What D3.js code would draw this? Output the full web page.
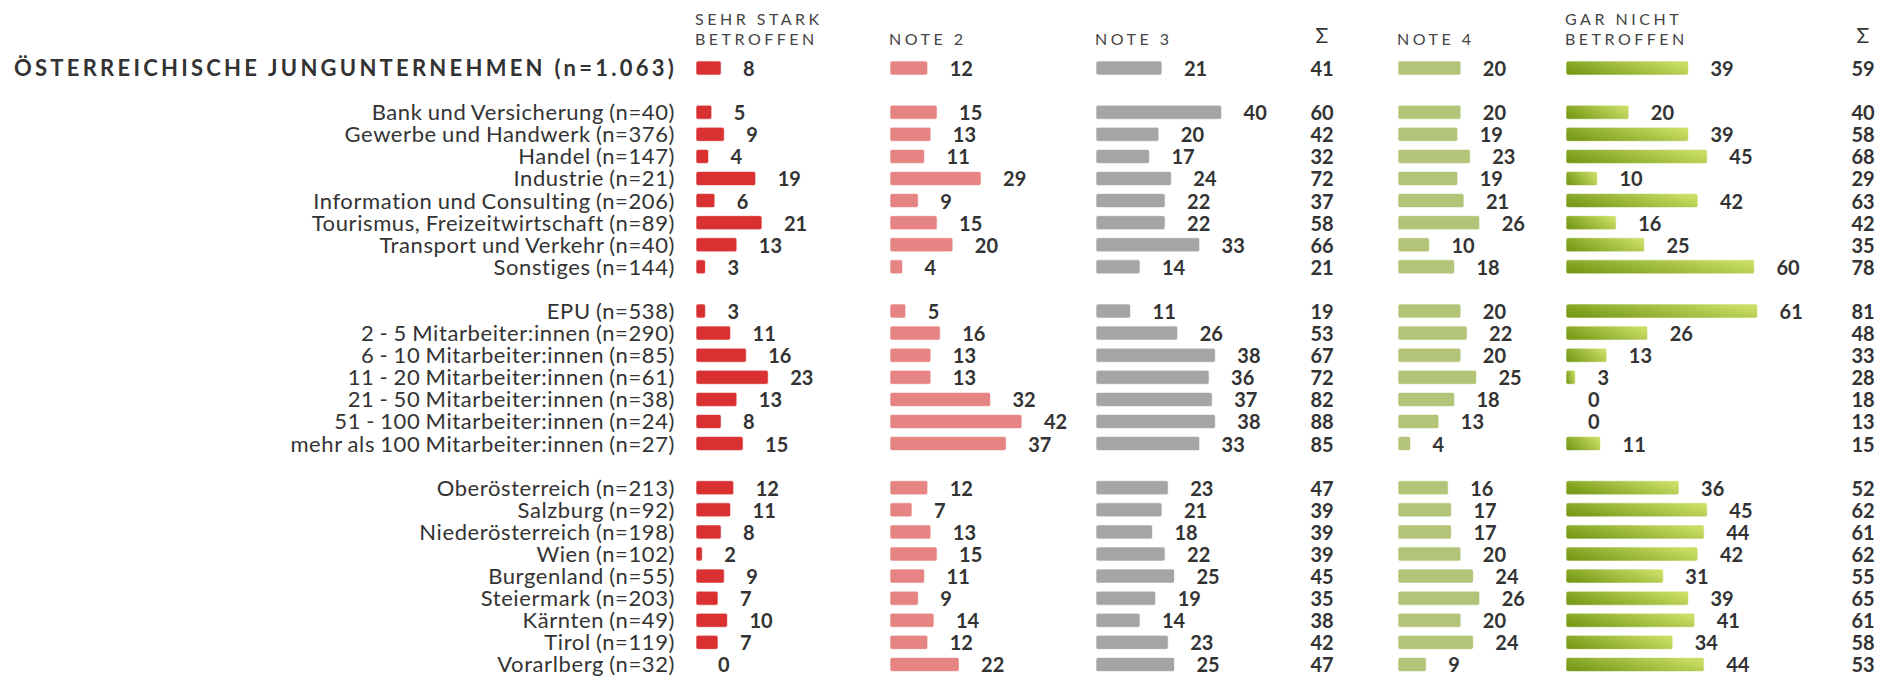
<!DOCTYPE html>
<html>
<head>
<meta charset="utf-8">
<script src="https://cdn.jsdelivr.net/npm/d3@7"></script>
<style>
  body { margin: 0; background: #fff; }
  svg { font-family: Lato, "Open Sans", sans-serif; }
  .head { font-size: 16px; letter-spacing: 3.5px; fill: #444; }
  .cat { font-size: 22px; font-weight: 400; letter-spacing: 0.6px; word-spacing: -1px; fill: #333; }
  .val { font-size: 20px; font-weight: 700; fill: #333; }
  .sigma { font-size: 21px; font-weight: 400; fill: #333; }
  .title { font-size: 22px; font-weight: 700; letter-spacing: 3.25px; fill: #333; }
</style>
</head>
<body>
<div id="chart"></div>
<script>
const width = 1901, height = 678;

// rows (empty strings are the gaps between groups)
const categories = [
    "total", "",
    "Bank und Versicherung (n=40)", "Gewerbe und Handwerk (n=376)", "Handel (n=147)", "Industrie (n=21)",
    "Information und Consulting (n=206)", "Tourismus, Freizeitwirtschaft (n=89)", "Transport und Verkehr (n=40)", "Sonstiges (n=144)", "",
    "EPU (n=538)", "2 - 5 Mitarbeiter:innen (n=290)", "6 - 10 Mitarbeiter:innen (n=85)", "11 - 20 Mitarbeiter:innen (n=61)",
    "21 - 50 Mitarbeiter:innen (n=38)", "51 - 100 Mitarbeiter:innen (n=24)", "mehr als 100 Mitarbeiter:innen (n=27)", "",
    "Oberösterreich (n=213)", "Salzburg (n=92)", "Niederösterreich (n=198)", "Wien (n=102)", "Burgenland (n=55)",
    "Steiermark (n=203)", "Kärnten (n=49)", "Tirol (n=119)", "Vorarlberg (n=32)"
];
const totalLabel = "ÖSTERREICHISCHE JUNGUNTERNEHMEN (n=1.063)";

const sehrStark = [8, null, 5, 9, 4, 19, 6, 21, 13, 3, null, 3, 11, 16, 23, 13, 8, 15, null, 12, 11, 8, 2, 9, 7, 10, 7, 0];
const note2     = [12, null, 15, 13, 11, 29, 9, 15, 20, 4, null, 5, 16, 13, 13, 32, 42, 37, null, 12, 7, 13, 15, 11, 9, 14, 12, 22];
const note3     = [21, null, 40, 20, 17, 24, 22, 22, 33, 14, null, 11, 26, 38, 36, 37, 38, 33, null, 23, 21, 18, 22, 25, 19, 14, 23, 25];
const sum1      = [41, null, 60, 42, 32, 72, 37, 58, 66, 21, null, 19, 53, 67, 72, 82, 88, 85, null, 47, 39, 39, 39, 45, 35, 38, 42, 47];
const note4     = [20, null, 20, 19, 23, 19, 21, 26, 10, 18, null, 20, 22, 20, 25, 18, 13, 4, null, 16, 17, 17, 20, 24, 26, 20, 24, 9];
const garNicht  = [39, null, 20, 39, 45, 10, 42, 16, 25, 60, null, 61, 26, 13, 3, 0, 0, 11, null, 36, 45, 44, 42, 31, 39, 41, 34, 44];
const sum2      = [59, null, 40, 58, 68, 29, 63, 42, 35, 78, null, 81, 48, 33, 28, 18, 13, 15, null, 52, 62, 61, 62, 55, 65, 61, 58, 53];

const barSeries = [
    {key: "sehrStark", head: ["SEHR STARK", "BETROFFEN"], values: sehrStark, color: "#d93131", x0: 696},
    {key: "note2", head: ["NOTE 2"], values: note2, color: "#e68383", x0: 890},
    {key: "note3", head: ["NOTE 3"], values: note3, color: "#a5a5a5", x0: 1096},
    {key: "note4", head: ["NOTE 4"], values: note4, color: "#b1c477", x0: 1398},
    {key: "garNicht", head: ["GAR NICHT", "BETROFFEN"], values: garNicht, color: "url(#grad)", x0: 1566}
];
const sumSeries = [
    {values: sum1, x: 1322},
    {values: sum2, x: 1863}
];

const svg = d3.select("#chart").append("svg")
    .attr("width", width)
    .attr("height", height);

const grad = svg.append("defs").append("linearGradient")
    .attr("id", "grad")
    .attr("x1", "0%").attr("y1", "70%")
    .attr("x2", "100%").attr("y2", "30%");
grad.append("stop").attr("offset", "0%").attr("stop-color", "#779a17");
grad.append("stop").attr("offset", "100%").attr("stop-color", "#cade66");

const rowIds = categories.map(function(d, i) { return i; });
const y = d3.scaleBand()
    .domain(rowIds)
    .range([57, 675.5]);
const x = d3.scaleLinear()
    .domain([0, 100])
    .range([0, 314]);

const barH = 14;
const rows = rowIds.filter(function(i) { return categories[i] !== ""; });

function cy(i) { return y(i) + y.bandwidth() / 2; }

// row labels
svg.append("g")
    .selectAll("text")
    .data(rows.filter(function(i) { return i > 0; }))
    .enter()
    .append("text")
    .attr("class", "cat")
    .attr("x", 675)
    .attr("y", function(i) { return cy(i) + 8; })
    .attr("text-anchor", "end")
    .text(function(i) { return categories[i]; });

svg.append("text")
    .attr("class", "title")
    .attr("x", 14)
    .attr("y", cy(0) + 8)
    .text(totalLabel);

// bar columns
barSeries.forEach(function(s) {
    const g = svg.append("g").attr("class", s.key);

    const head = g.append("text")
        .attr("class", "head")
        .attr("x", s.x0 - 1)
        .attr("y", s.head.length > 1 ? 25 : 45);
    s.head.forEach(function(line, j) {
        head.append("tspan")
            .attr("x", s.x0 - 1)
            .attr("dy", j === 0 ? 0 : 20)
            .text(line);
    });

    g.selectAll("rect")
        .data(rows.filter(function(i) { return s.values[i] > 0; }))
        .enter()
        .append("rect")
        .attr("x", s.x0)
        .attr("y", function(i) { return cy(i) - barH / 2; })
        .attr("width", function(i) { return x(s.values[i]); })
        .attr("height", barH)
        .attr("rx", 2)
        .style("fill", s.color)
        .style("stroke", "rgba(255,255,255,0.6)")
        .style("stroke-width", 1);

    g.selectAll("text.val")
        .data(rows)
        .enter()
        .append("text")
        .attr("class", "val")
        .attr("x", function(i) { return s.x0 + x(s.values[i]) + 22; })
        .attr("y", function(i) { return cy(i) + 8; })
        .text(function(i) { return s.values[i]; });
});

// sums
sumSeries.forEach(function(s) {
    const g = svg.append("g");
    g.append("text")
        .attr("class", "sigma")
        .attr("x", s.x)
        .attr("y", 43)
        .attr("text-anchor", "middle")
        .text("Σ");
    g.selectAll("text.val")
        .data(rows)
        .enter()
        .append("text")
        .attr("class", "val")
        .attr("x", s.x)
        .attr("y", function(i) { return cy(i) + 8; })
        .attr("text-anchor", "middle")
        .text(function(i) { return s.values[i]; });
});
</script>
</body>
</html>
